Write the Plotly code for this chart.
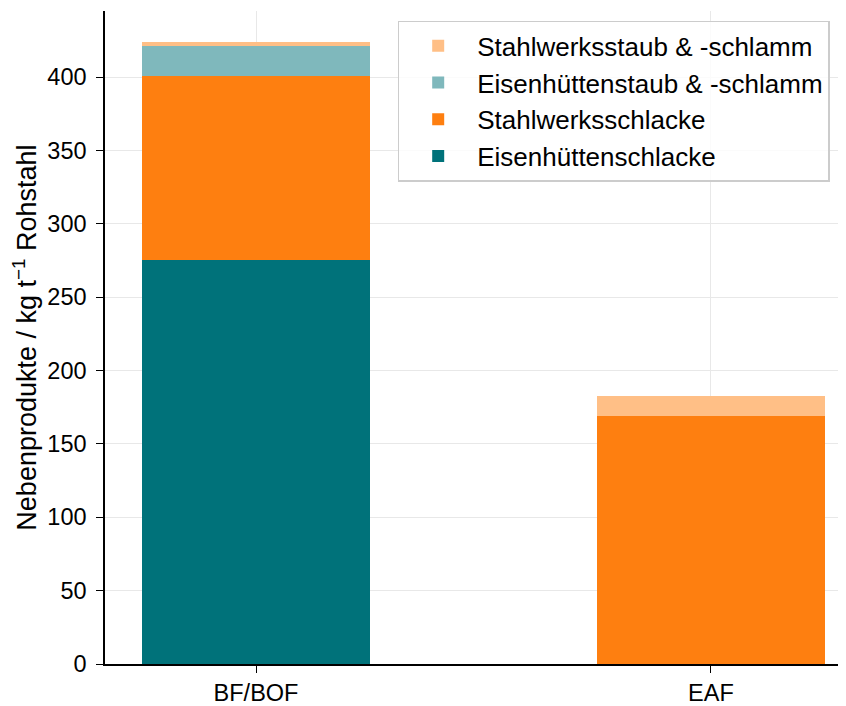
import plotly.graph_objects as go

categories = ["BF/BOF", "EAF"]
eisen_schlacke = [275, 0]
stahl_schlacke = [126, 169]
eisen_staub = [20, 0]
stahl_staub = [3, 13.5]

series_names = ["Eisenhüttenschlacke", "Stahlwerksschlacke",
                "Eisenhüttenstaub & -schlamm", "Stahlwerksstaub & -schlamm"]
series_values = [eisen_schlacke, stahl_schlacke, eisen_staub, stahl_staub]
colors = ["#00727a", "#fe7f10", "#7fb8bc", "#ffbf86"]

x_pos = [0, 1]

fig = go.Figure()
for name, vals, col in zip(series_names, series_values, colors):
    fig.add_trace(go.Bar(x=x_pos, y=vals, name=name, width=0.5,
                         marker=dict(color=col, line=dict(width=0))))

font = "Liberation Sans, Arial, sans-serif"
fig.update_layout(
    barmode="stack",
    width=838, height=698,
    margin=dict(l=97, r=0, t=3, b=42),
    paper_bgcolor="white", plot_bgcolor="white",
    font=dict(family=font, size=23, color="black"),
    showlegend=True,
    legend=dict(traceorder="reversed", x=0.395, y=0.985, xanchor="left", yanchor="top",
                bgcolor="rgba(255,255,255,0.8)", bordercolor="#cccccc", borderwidth=1.5,
                font=dict(size=26), itemwidth=68, tracegroupgap=4),
)
fig.update_xaxes(range=[-0.332, 1.297], tickvals=x_pos, ticktext=categories,
                 tickfont=dict(size=23.5),
                 showgrid=True, gridcolor="#e8e8e8", gridwidth=1,
                 showline=True, linecolor="black", linewidth=1.5,
                 ticks="outside", ticklen=7, tickcolor="black", zeroline=False)
fig.update_yaxes(range=[0, 445], dtick=50, tickfont=dict(size=23.5), ticklabelstandoff=5,
                 showgrid=True, gridcolor="#e8e8e8", gridwidth=1,
                 showline=True, linecolor="black", linewidth=1.5,
                 ticks="outside", ticklen=7, tickcolor="black", zeroline=False,
                 title=dict(text="Nebenprodukte / kg t<sup>−1</sup> Rohstahl", standoff=13,
                            font=dict(size=27)))
fig.write_html("out.html")
